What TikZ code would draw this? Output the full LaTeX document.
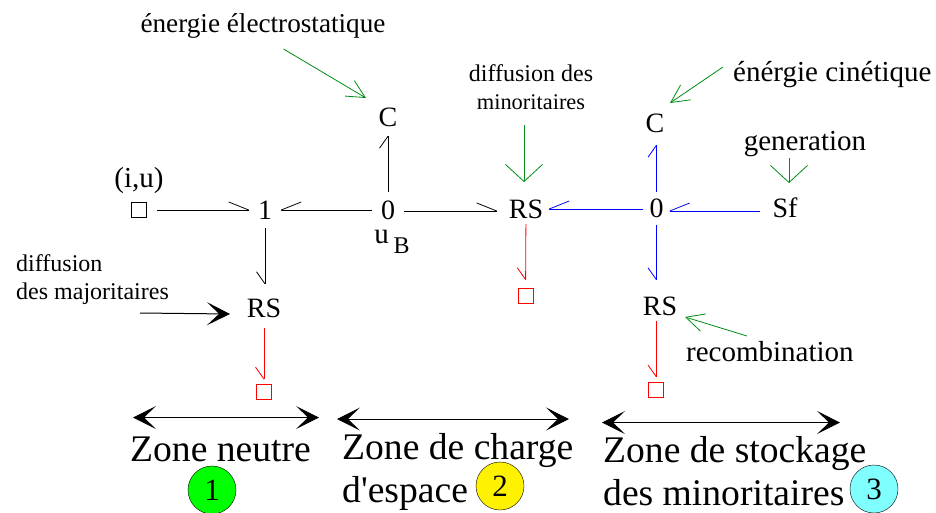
\documentclass[tikz,border=0pt]{standalone}
\usepackage{fontspec}
\setmainfont{Liberation Serif}
\usetikzlibrary{arrows.meta}
\definecolor{labgreen}{RGB}{0,140,20}
\definecolor{zonecyan}{RGB}{128,255,255}
\pgfdeclarearrow{
    name=Half,
    parameters={\the\pgfarrowlength,\the\pgfarrowwidth},
    setup code={
        \pgfarrowssettipend{0pt}
        \pgfarrowssetlineend{0pt}
        \pgfarrowssetbackend{-\pgfarrowlength}
        \pgfarrowssetvisualbackend{0pt}
    },
    drawing code={
        \pgfpathmoveto{\pgfqpoint{-\pgfarrowlength}{\pgfarrowwidth}}
        \pgfpathlineto{\pgfpointorigin}
        \pgfusepathqstroke
    },
    defaults={length=20pt,width=8pt}
}
\tikzset{
    small/.style={font=\fontsize{24}{28}\selectfont, inner sep=0pt},
    medium/.style={font=\fontsize{29}{33}\selectfont, inner sep=0pt},
    large/.style={font=\fontsize{37.6}{43}\selectfont, inner sep=0pt},
    element/.style={font=\fontsize{28}{32}\selectfont, inner sep=0pt, minimum width=32pt, minimum height=36pt},
    rsnode/.style={font=\fontsize{28}{32}\selectfont, inner sep=0pt, minimum width=36pt, minimum height=30pt},
    port/.style={draw, minimum size=15pt, inner sep=0pt, line width=0.8pt},
    zone/.style={circle, draw, minimum size=48pt, inner sep=0pt, font=\fontsize{31}{35}\selectfont},
    bondhl/.style={-{Half[length=20pt,width=8pt]}, line width=0.8pt},
    bondhr/.style={-{Half[length=20pt,width=-8pt]}, line width=0.8pt},
    bondvl/.style={-{Half[length=12pt,width=8.5pt]}, line width=0.8pt},
    bondvr/.style={-{Half[length=12pt,width=-8.5pt]}, line width=0.8pt},
    cause/.style={-{Straight Barb[length=17pt,width=37pt]}, labgreen, line width=0.8pt},
    slim/.style={-{Straight Barb[length=18pt,width=18pt]}, labgreen, line width=0.8pt},
    bigtip/.style={-{Stealth[length=23pt,width=23pt,inset=12pt]}, line width=1pt},
    span/.style={{Stealth[length=23pt,width=23pt,inset=12pt]}-{Stealth[length=23pt,width=23pt,inset=12pt]}, line width=1pt}
}
\begin{document}
\begin{tikzpicture}[x=1pt,y=1pt]
    \useasboundingbox (0,0) rectangle (936,-512);

    \node[port] (P1) at (139,-210) {};
    \node[medium, anchor=south] (iu) at (139,-194) {(i,u)};
    \node[element] (J1) at (265,-210) {\raisebox{-1.5pt}{1}};
    \node[element] (Z1) at (388,-210) {0};
    \node[element] (C1) at (388,-117) {C};
    \node[medium] (uB) at (392,-242) {u\,\raisebox{-10pt}{\fontsize{24}{28}\selectfont B}};
    \node[rsnode] (R1) at (264,-308) {RS};
    \node[port, draw=red] (P2) at (264,-392) {};
    \node[rsnode] (R2) at (526,-209) {RS};
    \node[port, draw=red] (P3) at (525.5,-295.5) {};
    \node[element, minimum width=26pt, minimum height=32pt] (Z2) at (656.5,-208.5) {0};
    \node[element] (C2) at (655,-123) {C};
    \node[element, minimum width=50pt] (Sf) at (785,-208) {Sf};
    \node[rsnode] (R3) at (660,-306) {RS};
    \node[port, draw=red] (P4) at (656,-390) {};

    \draw[bondhl, shorten <=10pt] (P1) -- (J1);
    \draw[bondhr] (Z1) -- (J1);
    \draw[bondvr, shorten >=9pt] (J1.south) -- (J1.south |- R1.north);
    \draw[bondvl, shorten >=1pt] (Z1) -- (C1);
    \draw[bondhl, shorten >=11pt] ([yshift=-1pt]Z1.east) -- ([yshift=-2pt]R2.west);
    \draw[bondvr, red, shorten <=5pt, shorten >=5pt] (R1) -- (P2);
    \draw[bondvr, red, shorten >=8pt] (R2) -- (P3);
    \draw[bondhr, blue, shorten >=5pt] (Z2.west |- R2) -- (R2);
    \draw[bondhr, blue] ([yshift=-3pt]Sf.west) -- ([yshift=-3pt]Sf.west -| Z2.east);
    \draw[bondvl, blue, shorten >=4pt] (Z2.north) -- (Z2.north |- C2.south);
    \draw[bondvr, blue, shorten >=11pt] (Z2.south) -- (Z2.south |- R3.north);
    \draw[bondvr, red, shorten >=5pt] (Z2 |- R3.south) -- (Z2 |- P4.north);

    \node[font=\fontsize{27.2}{32}\selectfont, inner sep=0pt] (elec) at (263,-26) {énergie électrostatique};
    \node[small, align=center] (difm) at (531,-87) {diffusion des\\{\fontsize{22.4}{28}\selectfont minoritaires}};
    \node[medium, anchor=west] (cin) at (733,-75) {énérgie cinétique};
    \node[medium] (gen) at (805,-144) {generation};
    \node[small, align=left, anchor=west] (maj) at (16,-280) {diffusion\\des majoritaires};
    \node[medium, anchor=west] (rec) at (686,-352) {recombination};

    \coordinate (elecA) at (283.5,-49);
    \coordinate (elecB) at (366,-98);
    \coordinate (difA) at (524,-125);
    \coordinate (difB) at (524,-182);
    \coordinate (cinA) at (723,-67);
    \coordinate (cinB) at (670,-103);
    \coordinate (genA) at (789,-158);
    \coordinate (genB) at (789,-183);
    \coordinate (recA) at (747,-336);
    \coordinate (recB) at (685,-317);
    \coordinate (majA) at (140,-313);
    \coordinate (majB) at (230,-314);

    \draw[slim] (elecA) -- (elecB);
    \draw[cause] (difA) -- (difB);
    \draw[slim] (cinA) -- (cinB);
    \draw[cause] (genA) -- (genB);
    \draw[slim] (recA) -- (recB);
    \draw[bigtip] (majA) -- (majB);

    \coordinate (s1a) at (133,-417.5);
    \coordinate (s1b) at (319,-417.5);
    \coordinate (s2a) at (337,-419);
    \coordinate (s2b) at (569,-419);
    \coordinate (s3a) at (602,-422.5);
    \coordinate (s3b) at (840,-422.5);
    \draw[span] (s1a) -- (s1b);
    \draw[span] (s2a) -- (s2b);
    \draw[span] (s3a) -- (s3b);

    \node[large, anchor=west] (T1) at (130,-449) {Zone neutre};
    \node[large, align=left, anchor=west] (T2) at (342,-472) {Zone de charge\\d\textquotesingle espace};
    \node[large, align=left, anchor=west] (T3) at (603,-471) {Zone de stockage\\des minoritaires};
    \node[zone, fill=green] (N1) at (212,-490) {1};
    \node[zone, fill=yellow] (N2) at (500,-486) {2};
    \node[zone, fill=zonecyan] (N3) at (874,-489) {3};
\end{tikzpicture}
\end{document}
